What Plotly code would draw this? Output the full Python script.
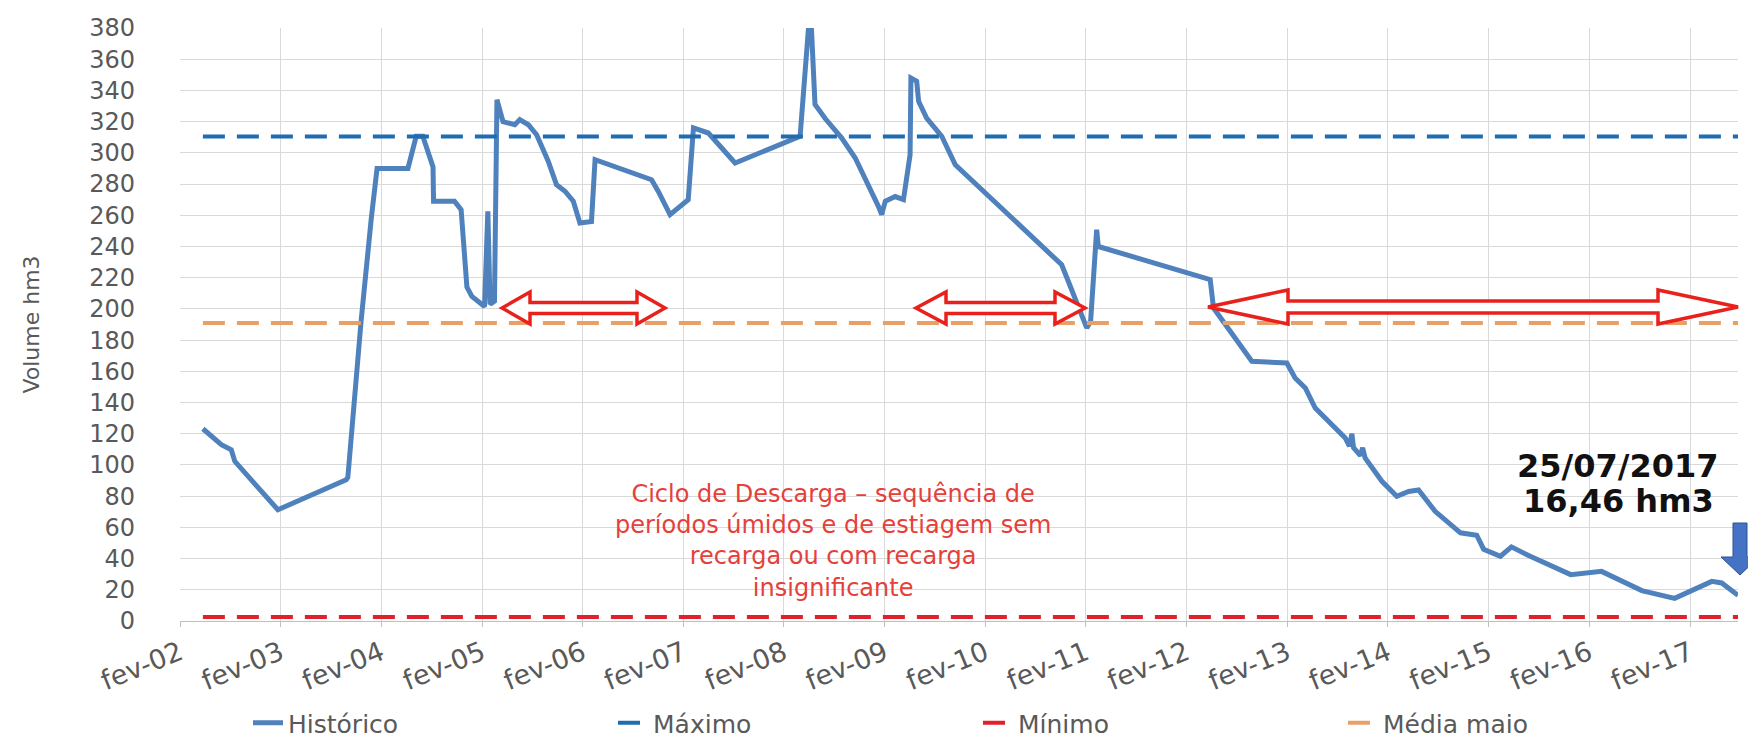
import plotly.graph_objects as go

# ---------------- data ----------------
datas = [
    "2002-04-25", "2002-07-01", "2002-08-06", "2002-08-19", "2003-01-22", "2003-09-27",
    "2003-10-03", "2003-11-20", "2003-12-27", "2004-01-17", "2004-05-08", "2004-06-07",
    "2004-07-01", "2004-08-07", "2004-08-09", "2004-10-24", "2004-11-17", "2004-12-08",
    "2004-12-26", "2005-02-10", "2005-02-22", "2005-03-02", "2005-03-18", "2005-03-27",
    "2005-04-18", "2005-05-31", "2005-06-18", "2005-07-19", "2005-08-18", "2005-09-29",
    "2005-10-29", "2005-11-29", "2005-12-29", "2006-01-22", "2006-03-05", "2006-03-18",
    "2006-10-09", "2006-11-02", "2006-12-15", "2007-02-19", "2007-03-10", "2007-05-03",
    "2007-08-08", "2008-03-31", "2008-05-07", "2008-05-24", "2008-06-30", "2008-08-29",
    "2008-10-17", "2008-11-22", "2009-01-09", "2009-01-21", "2009-02-03", "2009-03-11",
    "2009-04-10", "2009-05-04", "2009-05-07", "2009-05-28", "2009-06-04", "2009-07-03",
    "2009-08-27", "2009-10-15", "2010-11-05", "2010-11-29", "2011-02-04", "2011-02-18",
    "2011-03-12", "2011-03-18", "2012-04-27", "2012-05-09", "2012-09-25", "2013-01-30",
    "2013-03-01", "2013-04-07", "2013-05-13", "2013-08-30", "2013-09-14", "2013-09-23",
    "2013-09-29", "2013-10-24", "2013-11-01", "2013-11-10", "2014-01-10", "2014-03-05",
    "2014-04-17", "2014-05-23", "2014-07-22", "2014-10-22", "2014-12-20", "2015-01-14",
    "2015-03-16", "2015-04-25", "2015-06-26", "2015-11-26", "2016-03-17", "2016-08-10",
    "2016-12-07", "2017-04-21", "2017-05-27", "2017-07-25",
]
historico = [
    123.2, 113.0, 109.8, 102.3, 71.3, 90.5,
    92.0, 192.0, 258.0, 290.0, 290.0, 310.6,
    310.6, 291.0, 269.0, 269.0, 263.6, 214.0,
    208.0, 201.5, 262.5, 203.0, 205.0, 334.0,
    320.0, 318.0, 321.3, 318.0, 311.6, 294.6,
    279.6, 275.4, 269.0, 255.0, 256.0, 295.6,
    282.8, 275.4, 260.4, 270.0, 316.0, 312.7,
    293.5, 310.6, 395.0, 331.0, 322.0, 309.5,
    296.7, 283.9, 265.7, 260.4, 269.0, 272.0,
    270.0, 298.8, 348.0, 345.9, 333.0, 322.3,
    310.6, 292.4, 228.3, 217.7, 187.8, 192.0,
    250.8, 240.0, 218.7, 200.6, 166.4, 165.3,
    155.7, 149.3, 136.5, 117.3, 112.0, 120.0,
    111.0, 106.0, 111.0, 104.5, 89.5, 79.9,
    83.0, 84.0, 70.3, 56.5, 55.0, 46.0,
    41.5, 47.5, 42.0, 29.7, 31.8, 19.5,
    14.5, 25.4, 24.4, 16.46,
]
maximo = 310.5
minimo = 2.5
media_maio = 191.0

tick_datas = ["2002-02-01", "2003-02-01", "2004-02-01", "2005-02-01", "2006-02-01",
              "2007-02-01", "2008-02-01", "2009-02-01", "2010-02-01", "2011-02-01",
              "2012-02-01", "2013-02-01", "2014-02-01", "2015-02-01", "2016-02-01",
              "2017-02-01"]
tick_rotulos = ["fev-02", "fev-03", "fev-04", "fev-05", "fev-06", "fev-07", "fev-08",
                "fev-09", "fev-10", "fev-11", "fev-12", "fev-13", "fev-14", "fev-15",
                "fev-16", "fev-17"]

texto_ciclo = ["Ciclo de Descarga – sequência de", "períodos úmidos e de estiagem sem",
               "recarga ou com recarga", "insignificante"]
texto_final = ["25/07/2017", "16,46 hm3"]

# ---------------- figure ----------------
W, H = 1756, 738
ML, MR, MT, MB = 172, 26, 20, 125
PW, PH = W - ML - MR, H - MT - MB
FONT = "DejaVu Sans"
GRAY = "#595959"


def px(x):
    return (x - ML) / PW


def py(y):
    return (H - MB - y) / PH


fig = go.Figure()
ext = [datas[0], datas[-1]]
fig.add_trace(go.Scatter(x=datas, y=historico, mode="lines", name="Histórico",
                         line=dict(color="#4F81BD", width=5)))
fig.add_trace(go.Scatter(x=ext, y=[maximo, maximo], mode="lines", name="Máximo",
                         line=dict(color="#1F6CB0", width=4, dash="22px,12px")))
fig.add_trace(go.Scatter(x=ext, y=[minimo, minimo], mode="lines", name="Mínimo",
                         line=dict(color="#E0202A", width=4, dash="22px,12px")))
fig.add_trace(go.Scatter(x=ext, y=[media_maio, media_maio], mode="lines", name="Média maio",
                         line=dict(color="#E9A066", width=4, dash="22px,12px")))


def poly(pts):
    return "M " + " L ".join(f"{px(a):.5f},{py(b):.5f}" for a, b in pts) + " Z"


def double_arrow(x0, x1, yc, hh, sh, hl):
    pts = [(x0, yc), (x0 + hl, yc - hh), (x0 + hl, yc - sh), (x1 - hl, yc - sh),
           (x1 - hl, yc - hh), (x1, yc), (x1 - hl, yc + hh), (x1 - hl, yc + sh),
           (x0 + hl, yc + sh), (x0 + hl, yc + hh)]
    return dict(type="path", xref="paper", yref="paper", path=poly(pts),
                line=dict(color="#E8211C", width=3.5), fillcolor="white", layer="above")


shapes = [
    double_arrow(494, 657, 300, 16, 5.5, 28),
    double_arrow(908, 1077, 300, 16, 5.5, 30),
    double_arrow(1200, 1730, 299, 17, 6, 80),
]
# blue down arrow
dpts = [(1725, 515), (1739, 515), (1739, 549), (1751, 549), (1732, 567), (1713, 549), (1725, 549)]
shapes.append(dict(type="path", xref="paper", yref="paper", path=poly(dpts),
                   line=dict(color="#2F528F", width=1), fillcolor="#4472C4", layer="above"))

annotations = [
    dict(xref="paper", yref="paper", x=px(825), y=py(533), xanchor="center", yanchor="middle",
         text="<br>".join(texto_ciclo), showarrow=False, align="center",
         font=dict(family=FONT, size=24, color="#E5403A")),
]
for i, linha in enumerate(texto_final):
    annotations.append(dict(xref="paper", yref="paper", x=px(1610), y=py(458 + 35 * i),
                            xanchor="center", yanchor="middle", text=f"<b>{linha}</b>",
                            showarrow=False,
                            font=dict(family=FONT, size=32, color="#111111")))

fig.update_layout(
    width=W, height=H,
    margin=dict(l=ML, r=MR, t=MT, b=MB, autoexpand=False),
    paper_bgcolor="white", plot_bgcolor="white",
    font=dict(family=FONT, color=GRAY),
    shapes=shapes, annotations=annotations,
    showlegend=True,
    legend=dict(orientation="h", x=px(240), xanchor="left",
                yref="container", y=0.0, yanchor="bottom",
                font=dict(family=FONT, size=25, color=GRAY),
                entrywidth=320, entrywidthmode="pixels", bgcolor="rgba(0,0,0,0)"),
)
fig.update_xaxes(type="date", range=["2002-02-01", "2017-07-25"],
                 tickmode="array", tickvals=tick_datas, ticktext=tick_rotulos,
                 tickangle=-22, tickfont=dict(family=FONT, size=27, color=GRAY),
                 showgrid=True, gridcolor="#D9D9D9", gridwidth=1,
                 showline=True, linecolor="#BFBFBF", linewidth=1,
                 ticks="outside", ticklen=5, tickcolor="#BFBFBF", zeroline=False)
fig.update_yaxes(range=[0, 380], dtick=20, tick0=0,
                 tickfont=dict(family=FONT, size=24, color=GRAY),
                 showgrid=True, gridcolor="#D9D9D9", gridwidth=1, zeroline=False,
                 ticks="", ticklabelstandoff=44,
                 title=dict(text="Volume hm3", font=dict(family=FONT, size=22, color=GRAY),
                            standoff=43))

fig.write_html("out.html")
